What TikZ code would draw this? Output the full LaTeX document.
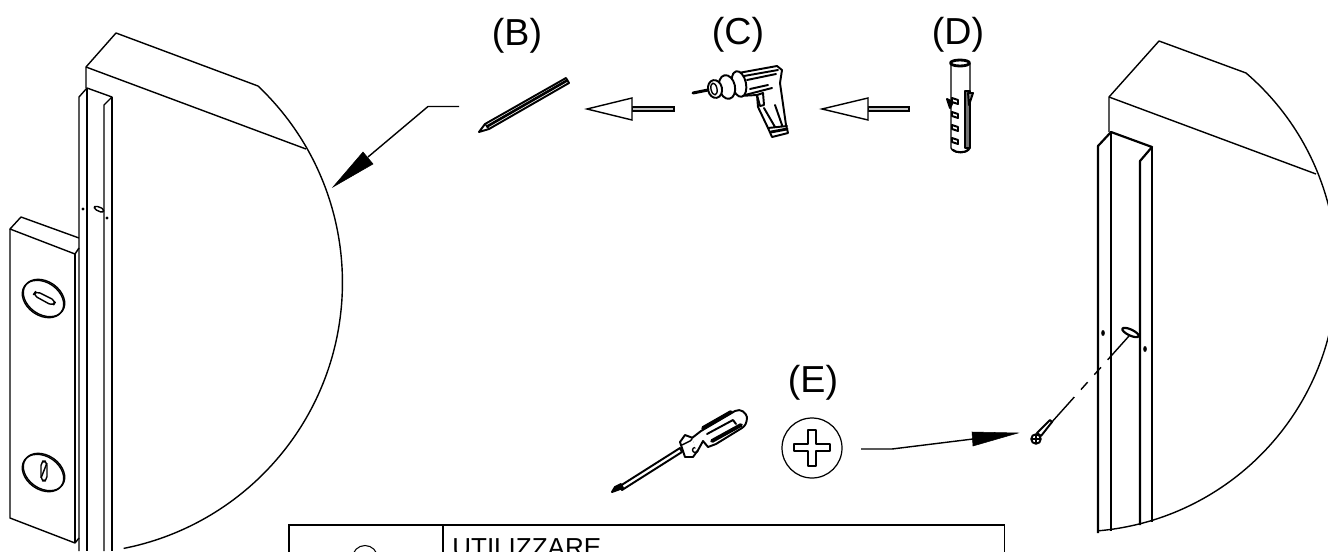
\documentclass[tikz,border=0pt]{standalone}
\usepackage{fontspec}
\setmainfont{Liberation Sans}
\usetikzlibrary{positioning}
\tikzset{
    edge/.style={draw=black, line width=0.8pt, line join=round},
    heavy/.style={draw=black, line width=1.25pt, line join=round},
    tool/.style={draw=black, line width=1.1pt, line join=round, line cap=round},
    wire/.style={draw=black, line width=0.8pt},
    headfill/.style={fill=black, draw=black, line width=0.3pt},
    hollowhead/.style={draw=black, line width=0.8pt, fill=white},
    hollowshaft/.style={draw=black, line width=0.6pt, fill=black!22},
    partlabel/.style={font=\fontsize{21.4}{23}\selectfont, inner sep=0pt},
    tablecell/.style={draw=black, line width=0.9pt, anchor=north west, inner sep=0pt},
    platedisc/.style={x radius=0.45cm, y radius=0.33cm, rotate=-35}
}

\begin{document}
\begin{tikzpicture}[x=0.02cm, y=-0.02cm]
\useasboundingbox (0,0) rectangle (1328,551);
\clip (0,0) rectangle (1328,551);

% Left wall
\draw[edge] (86,88) -- (86,67) -- (116,33) -- (258,86);
\draw[edge] (86,67) -- (306,149);
\draw[edge] (258,86) arc[start angle=46.5, end angle=-78.9, radius=5.42cm];

% Left channel
\draw[edge] (79,551) -- (79,97) -- (87,88) -- (112,97) -- (104,105) -- (104,551);
\draw[heavy] (87,88) -- (87,551);
\draw[edge] (112,97) -- (112,551);
\fill (83,209) circle (1.7);
\fill (107,218) circle (1.7);
\draw[edge, rounded corners=1.5] (95,205.5) -- (104,209) -- (103,213) -- (94,209) -- cycle;

% Left plate
\draw[edge] (79,238) -- (21,217) -- (10,229) -- (75,254) -- (79,248);
\draw[edge] (10,229) -- (10,518) -- (75,543) -- (79,538);
\draw[edge] (75,254) -- (75,543);

% Plate discs
\draw[edge] (43,299) ellipse[platedisc];
\draw[edge] (44,298) ellipse[platedisc];
\draw[edge, rounded corners=2.5] (36,291) -- (56,301) -- (53,306) -- (33,295) -- cycle;
\draw[edge] (43,473) ellipse[platedisc];
\draw[edge] (44,472) ellipse[platedisc];
\draw[edge, rounded corners=2.5] (41,461) -- (47,461) -- (47,481) -- (41,481) -- cycle;
\draw[edge] (47,463) -- (41,478);

% Right wall
\draw[edge] (1109,132) -- (1109,97) -- (1159,41) -- (1246,73);
\draw[edge] (1109,97) -- (1316,174);
\draw[edge] (1246,73) arc[start angle=49.3, end angle=-85, radius=5.22cm];

% Right channel
\draw[heavy] (1098,533) -- (1098,146) -- (1111,132) -- (1152,147) -- (1140,161) -- (1140,525);
\draw[heavy] (1111,132) -- (1111,531);
\draw[heavy] (1152,147) -- (1152,522);
\fill (1103,333) ellipse (1.8 and 3);
\fill (1145,349) ellipse (1.8 and 3);
\draw[heavy] (1130.5,332.5) ellipse[x radius=0.18cm, y radius=0.06cm, rotate=-25];

% Screw
\coordinate (screwtip) at (1051,423);
\coordinate (slotend) at (1129,336);
\draw[wire, dash pattern=on 0.64cm off 0.2cm on 0.2cm off 0.2cm on 0.2cm off 0.2cm on 0.7cm] (slotend) -- (screwtip);
\draw[tool, fill=white] (1048,422) -- (1050,420) -- (1052,422) -- (1041,436) -- (1037,433) -- cycle;
\draw[tool, fill=white] (1036,439) circle (4.8);
\draw[edge] (1032,439) -- (1040,439) (1036,435) -- (1036,443);

% Pencil
\draw[tool, fill=white] (479,132) -- (485,124) -- (566,78) -- (569,83) -- (489,129) -- cycle;
\draw[tool, line width=1.5pt] (487,126.5) -- (567,80.5);
\draw[edge] (485,124) -- (489,129);

% Drill
\draw[tool, fill=white] (733,74) -- (777,66) -- (782,70) -- (780,83) -- (786,125) -- (788,133) -- (772,137) -- (768,128) -- (758,107) -- (757,95) -- (740,96) -- cycle;
\draw[tool] (744,76) -- (778,70) (747,80) -- (776,74) (750,89) -- (768,85) (745,95) -- (772,88);
\draw[tool, fill=white] (757,95) -- (763,93) -- (764,105) -- (760,106) -- cycle;
\draw[tool] (764,108) -- (775,127) (775,105) -- (782,125) (768,128) -- (787,126);
\draw[tool, line width=1.6pt] (771,132) -- (787,129);
\draw[tool, fill=white] (739,84) ellipse[x radius=0.14cm, y radius=0.26cm, rotate=12];
\draw[tool, fill=white] (727,87) ellipse[x radius=0.16cm, y radius=0.24cm, rotate=12];
\draw[tool, fill=white] (715,89) ellipse[x radius=0.14cm, y radius=0.18cm, rotate=12];
\draw[edge] (714,89) ellipse[x radius=0.06cm, y radius=0.12cm, rotate=12];
\draw[tool, line width=1.7pt] (693,93) -- (708,90);

% Anchor
\draw[edge, fill=white] (951,63) -- (951,148) .. controls (953,154) and (968,154) .. (970,148) -- (970,63);
\draw[tool, line width=1.2pt] (953,150) .. controls (956,153) and (965,153) .. (968,150);
\draw[heavy, fill=white, line width=1.6pt] (960,63) ellipse (9.5 and 3);
\draw[edge, fill=black!55] (965,91) rectangle (970,148);
\draw[tool, fill=black!40] (968,93) -- (973,93) -- (969,105) -- cycle;
\draw[tool, fill=black] (947,99) -- (953,102) -- (950,108) -- cycle;
\foreach \wy in {101,115,128,141} {
    \draw[tool, fill=white] (952,\wy-3) -- (958,\wy-1) -- (958,\wy+3) -- (952,\wy+1) -- cycle;
}

% Screwdriver
\draw[tool, fill=white] (620,486) -- (680,448) -- (682,452) -- (622,490) -- cycle;
\draw[tool, fill=black] (612,492) -- (615,487) -- (621,484) -- (623,488) -- cycle;
\draw[tool, fill=white] (680,442) -- (685,435) -- (693,438) -- (698,450) -- (693,457) -- (685,457) -- cycle;
\draw[edge] (682,445) -- (690,441) -- (693,438);
\draw[edge] (695,450) circle (2.5);
\draw[tool, fill=white] (692,438) -- (701,431) -- (735,411) .. controls (741,408) and (746,413) .. (747,417) .. controls (747,423) and (745,426) .. (742,428) -- (716,444) -- (708,447) -- (703,441) -- (697,452);
\draw[tool, line width=2.2pt] (703,428) -- (731,412);
\draw[tool, line width=2.2pt] (712,441) -- (741,425);
\draw[tool] (707,434) -- (733,420) -- (736,424);

% Hollow arrows
\draw[hollowshaft] (632,107) rectangle (674,111);
\draw[hollowhead] (587,109) -- (632,98) -- (632,120) -- cycle;
\draw[hollowshaft] (868,107) rectangle (909,111);
\draw[hollowhead] (822,109) -- (868,98) -- (868,120) -- cycle;

% Leader to left wall
\coordinate (pencilside) at (459,106.5);
\coordinate (wallside) at (333,187);
\draw[wire] (pencilside) -- (428,106.5) -- (368,157);
\fill[headfill] (wallside) -- (363,152) -- (373,164) -- cycle;

% Leader to screw
\coordinate (crossside) at (861,449);
\coordinate (screwside) at (1018,433);
\draw[wire] (crossside) -- (892,449) -- (973,439);
\fill[headfill] (screwside) -- (972,432) -- (973,446) -- cycle;

% Cross head
\node[draw=black, line width=0.7pt, circle, minimum size=1.2cm, inner sep=0pt] (crosshead) at (812,448) {};
\draw[draw=black, line width=0.6pt, line join=round] (808,430) -- (816,430) -- (816,444) -- (830,444) -- (830,451) -- (816,451) -- (816,466) -- (808,466) -- (808,451) -- (794,451) -- (794,444) -- (808,444) -- cycle;

% Part labels
\node[partlabel] (labelb) at (517,36) {(B)};
\node[partlabel] (labelc) at (738,35) {(C)};
\node[partlabel] (labeld) at (958,35) {(D)};
\node[partlabel] (labele) at (813,383) {(E)};

% Table
\node[tablecell, minimum width=3.08cm, minimum height=1.6cm] (symbolcell) at (288,524) {};
\node[tablecell, minimum width=11.24cm, minimum height=1.6cm] (textcell) at (442,524) {};
\node[font=\fontsize{14.8}{16}\selectfont, inner sep=0pt, anchor=base west] (usetext) at (452,556) {UTILIZZARE};
\node[draw=black, line width=0.6pt, circle, minimum size=0.5cm, inner sep=0pt] (symbolmark) at (365,558) {};

\end{tikzpicture}
\end{document}
